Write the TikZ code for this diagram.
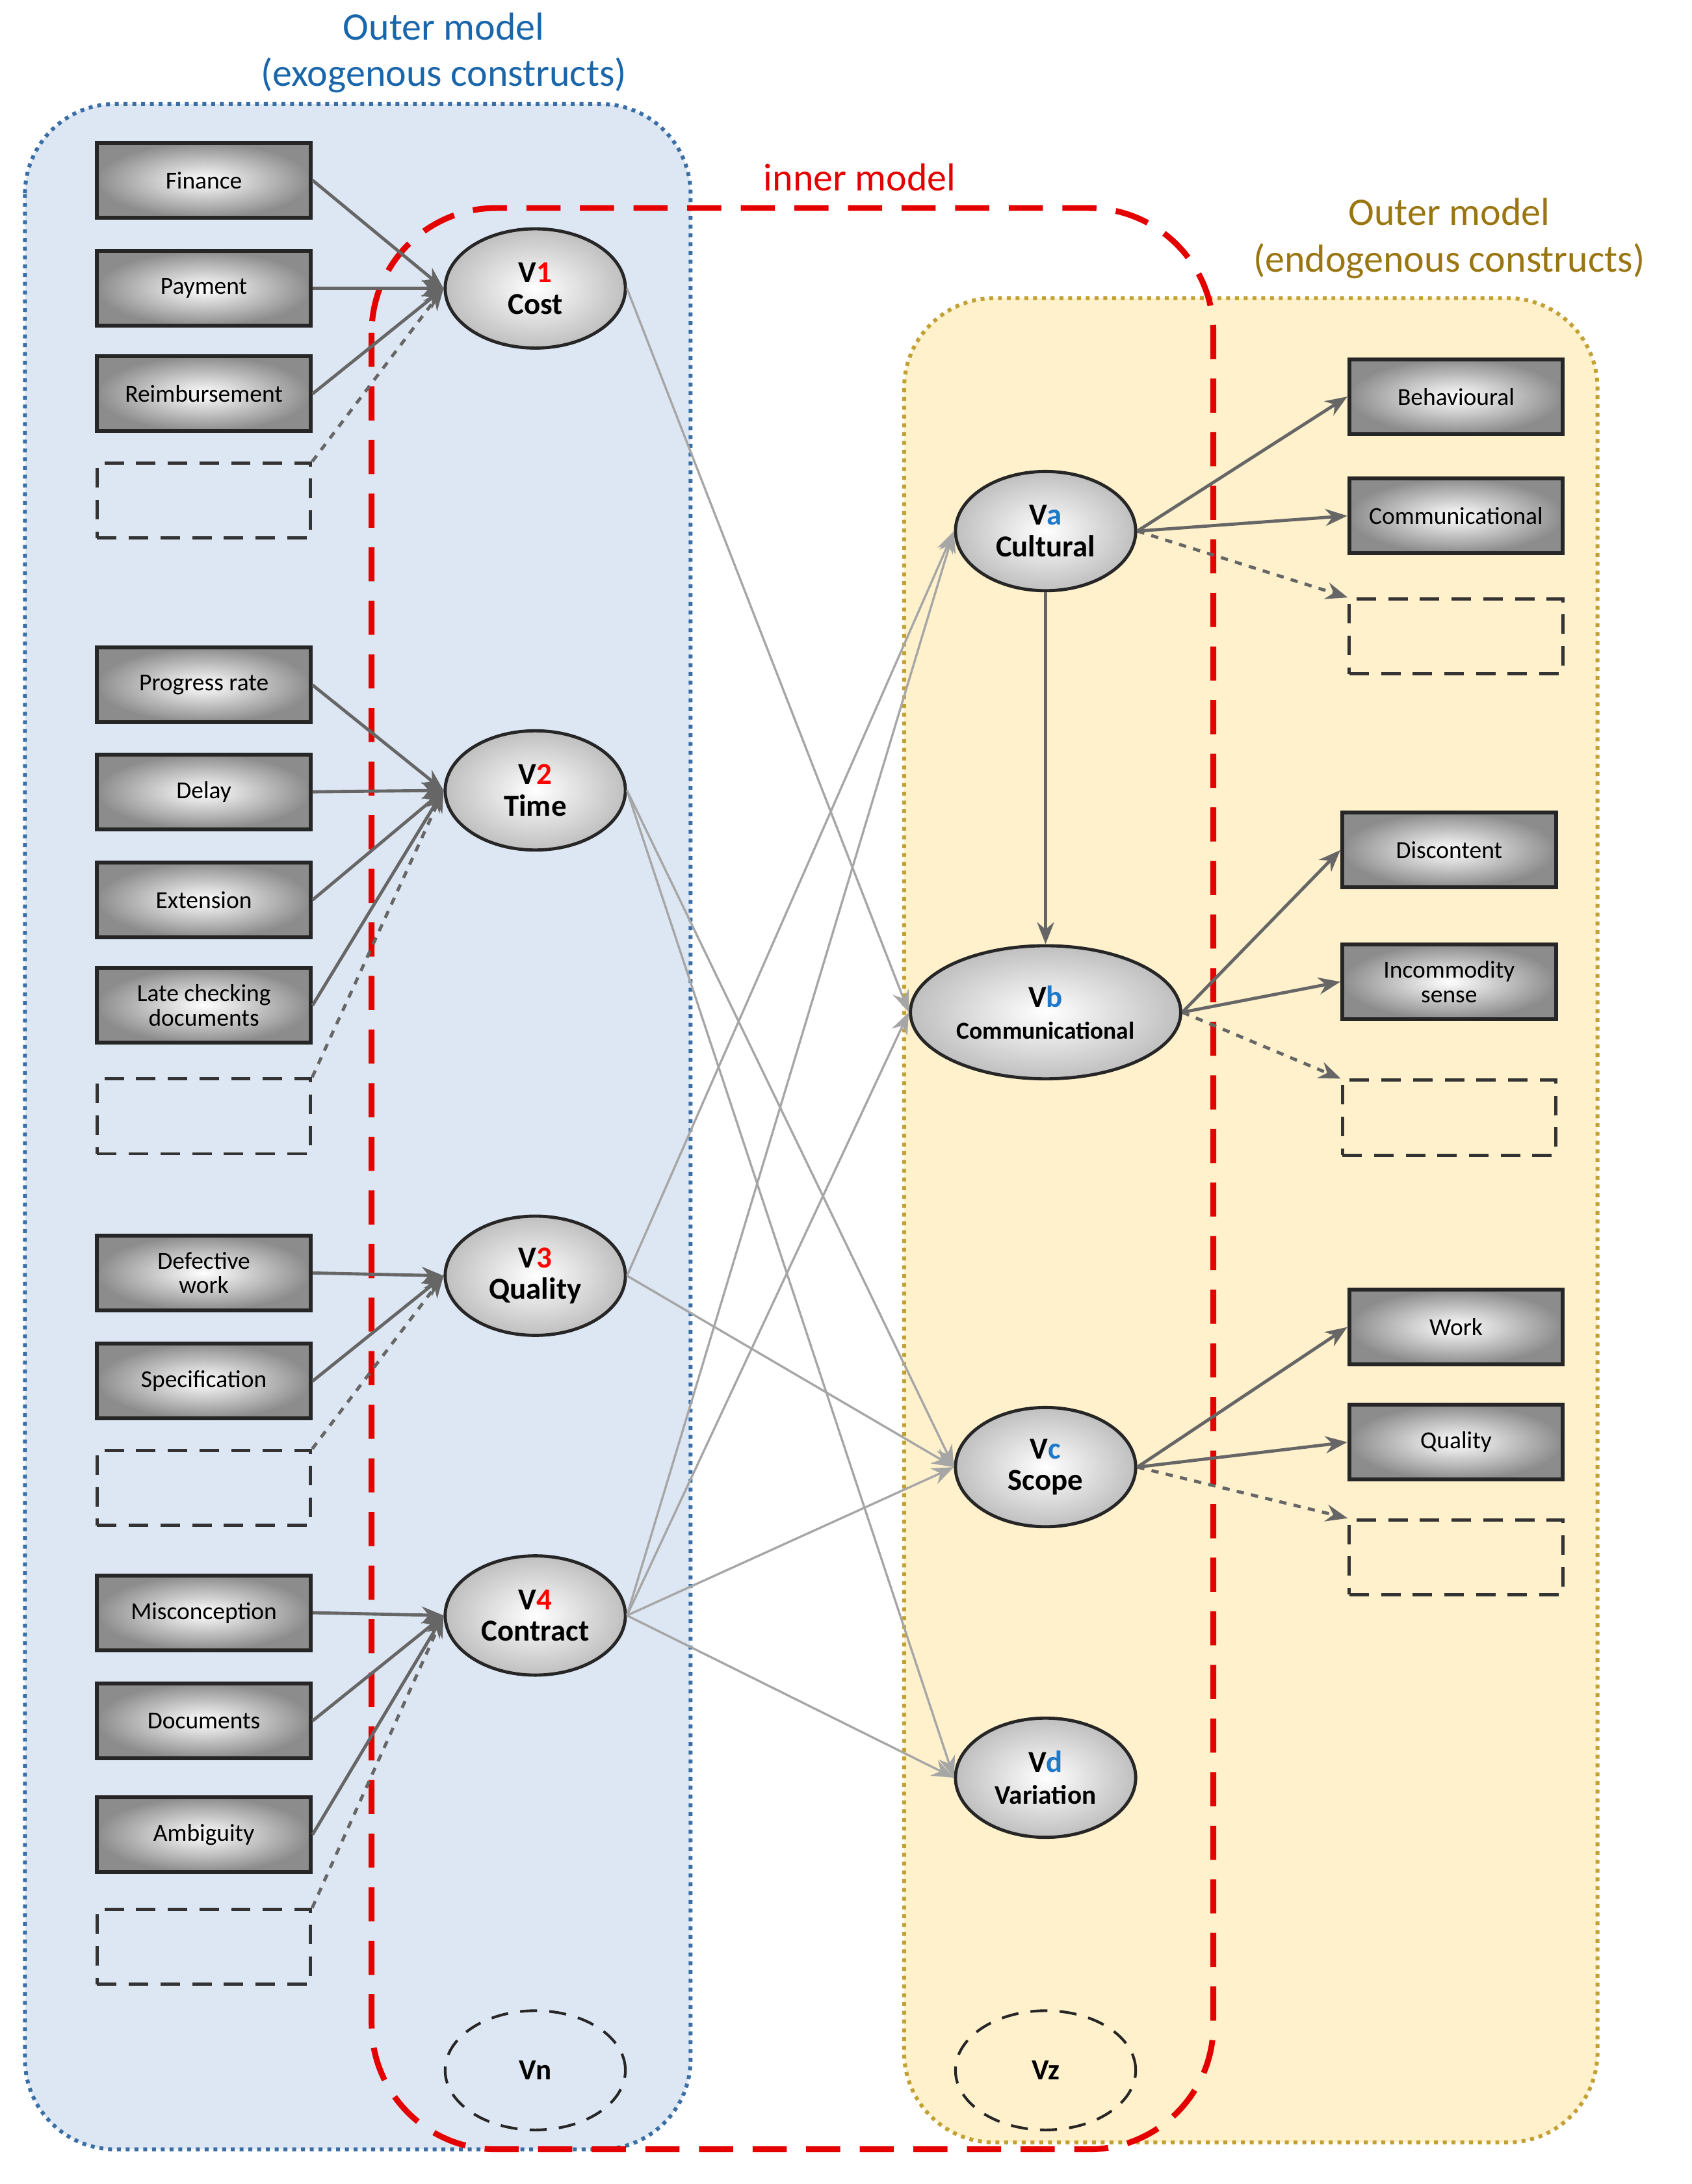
\documentclass[tikz,border=0pt]{standalone}
\usepackage{fontspec}
\setmainfont{Carlito}
\usetikzlibrary{shapes.geometric, arrows.meta}
\definecolor{exofill}{HTML}{DDE7F3}
\definecolor{exoline}{HTML}{3A6EA5}
\definecolor{endofill}{HTML}{FFF1CC}
\definecolor{endoline}{HTML}{C2A032}
\definecolor{endotext}{HTML}{9A7612}
\definecolor{vblue}{HTML}{1F78C8}
\tikzset{
  indicator/.style={
    rectangle,
    draw=black!85, line width=1.6pt,
    minimum width=3.08cm,
    minimum height=1.08cm,
    inner sep=1pt,
    align=center,
    font=\fontsize{10}{10}\selectfont,
    inner color=white, outer color=black!45
  },
  empty/.style={
    rectangle,
    draw=black!80, line width=1.3pt, dash pattern=on 8pt off 5pt,
    minimum width=3.08cm,
    minimum height=1.08cm
  },
  construct/.style={
    ellipse,
    draw=black!85, line width=1.3pt,
    minimum width=2.6cm,
    minimum height=1.72cm,
    inner sep=0pt,
    align=center,
    font=\bfseries\fontsize{12.5}{13}\selectfont,
    inner color=white, outer color=black!25
  },
  hidden/.style={
    ellipse,
    draw=black!85, line width=1.1pt, dash pattern=on 7pt off 5pt,
    minimum width=2.6cm,
    minimum height=1.72cm,
    font=\bfseries\fontsize{12}{12}\selectfont
  },
  load/.style={
    draw=black!60,
    line width=1.3pt,
    -{Stealth[length=9pt,width=7pt]}
  },
  path/.style={
    draw=black!35,
    line width=0.9pt,
    -{Stealth[length=9pt,width=7pt]}
  }
}

\begin{document}
\begin{tikzpicture}[x=0.02cm, y=-0.02cm]
\useasboundingbox (0,0) rectangle (1220,1575);

% regions
\draw[exoline, fill=exofill, line width=1.6pt, dotted, rounded corners=1.3cm] (18,75) rectangle (498,1550);
\draw[endoline, fill=endofill, line width=1.6pt, dotted, rounded corners=1.3cm] (652,215) rectangle (1152,1545);
\draw[red!90!black, line width=2.4pt, dash pattern=on 14pt off 8pt, rounded corners=1.8cm] (268,150) rectangle (875,1550);

% titles
\node[text=vblue!85!black, font=\fontsize{16}{19}\selectfont, align=center] (exotitle) at (320,38) {Outer model\\(exogenous constructs)};
\node[text=red!90!black, font=\fontsize{16}{19}\selectfont] (innertitle) at (620,128) {inner model};
\node[text=endotext, font=\fontsize{16}{19}\selectfont, align=center] (endotitle) at (1045,172) {Outer model\\(endogenous constructs)};

% exogenous constructs
\node[construct] (v1) at (386,208) {V\textcolor{red}{1}\\Cost};
\node[construct] (v2) at (386,570) {V\textcolor{red}{2}\\Time};
\node[construct] (v3) at (386,920) {V\textcolor{red}{3}\\Quality};
\node[construct] (v4) at (386,1165) {V\textcolor{red}{4}\\Contract};
\node[hidden] (vn) at (386,1493) {Vn};

% endogenous constructs
\node[construct] (va) at (754,383) {V\textcolor{vblue}{a}\\Cultural};
\node[construct, minimum width=3.9cm, minimum height=1.92cm] (vb) at (754,730) {V\textcolor{vblue}{b}\\{\fontsize{10}{11}\selectfont Communicational}};
\node[construct] (vc) at (754,1058) {V\textcolor{vblue}{c}\\Scope};
\node[construct] (vd) at (754,1282) {V\textcolor{vblue}{d}\\{\fontsize{11}{12}\selectfont Variation}};
\node[hidden] (vz) at (754,1493) {Vz};

% exogenous indicators
\node[indicator] (finance) at (147,130) {Finance};
\node[indicator] (payment) at (147,208) {Payment};
\node[indicator] (reimb) at (147,284) {Reimbursement};
\node[empty] (e1) at (147,361) {};
\node[indicator] (progress) at (147,494) {Progress rate};
\node[indicator] (delay) at (147,571) {Delay};
\node[indicator] (extension) at (147,649) {Extension};
\node[indicator] (late) at (147,725) {Late checking\\documents};
\node[empty] (e2) at (147,805) {};
\node[indicator] (defective) at (147,918) {Defective\\work};
\node[indicator] (spec) at (147,996) {Specification};
\node[empty] (e3) at (147,1073) {};
\node[indicator] (miscon) at (147,1163) {Misconception};
\node[indicator] (docs) at (147,1241) {Documents};
\node[indicator] (ambig) at (147,1323) {Ambiguity};
\node[empty] (e4) at (147,1404) {};

% endogenous indicators
\node[indicator] (behav) at (1050,286) {Behavioural};
\node[indicator] (commun) at (1050,372) {Communicational};
\node[empty] (e5) at (1050,459) {};
\node[indicator] (discon) at (1045,613) {Discontent};
\node[indicator] (incomm) at (1045,708) {Incommodity\\sense};
\node[empty] (e6) at (1045,806) {};
\node[indicator] (work) at (1050,957) {Work};
\node[indicator] (qual) at (1050,1040) {Quality};
\node[empty] (e7) at (1050,1123) {};

% edges

%% outer model (exogenous)
\draw[load] (finance.east) -- (v1.west);
\draw[load] (payment.east) -- (v1.west);
\draw[load] (reimb.east) -- (v1.west);
\draw[load, dashed] (e1.north east) -- (v1.west);
\draw[load] (progress.east) -- (v2.west);
\draw[load] (delay.east) -- (v2.west);
\draw[load] (extension.east) -- (v2.west);
\draw[load] (late.east) -- (v2.west);
\draw[load, dashed] (e2.north east) -- (v2.west);
\draw[load] (defective.east) -- (v3.west);
\draw[load] (spec.east) -- (v3.west);
\draw[load, dashed] (e3.north east) -- (v3.west);
\draw[load] (miscon.east) -- (v4.west);
\draw[load] (docs.east) -- (v4.west);
\draw[load] (ambig.east) -- (v4.west);
\draw[load, dashed] (e4.north east) -- (v4.west);

%% inner model
\draw[path] (v1.east) -- (vb.west);
\draw[path] (v2.east) -- (vc.west);
\draw[path] (v2.east) -- (vd.west);
\draw[path] (v3.east) -- (va.west);
\draw[path] (v3.east) -- (vc.west);
\draw[path] (v4.east) -- (va.west);
\draw[path] (v4.east) -- (vb.west);
\draw[path] (v4.east) -- (vc.west);
\draw[path] (v4.east) -- (vd.west);
\draw[load] (va.south) -- (vb.north);

%% outer model (endogenous)
\draw[load] (va.east) -- (behav.west);
\draw[load] (va.east) -- (commun.west);
\draw[load, dashed] (va.east) -- (e5.north west);
\draw[load] (vb.east) -- (discon.west);
\draw[load] (vb.east) -- (incomm.west);
\draw[load, dashed] (vb.east) -- (e6.north west);
\draw[load] (vc.east) -- (work.west);
\draw[load] (vc.east) -- (qual.west);
\draw[load, dashed] (vc.east) -- (e7.north west);
\end{tikzpicture}
\end{document}
